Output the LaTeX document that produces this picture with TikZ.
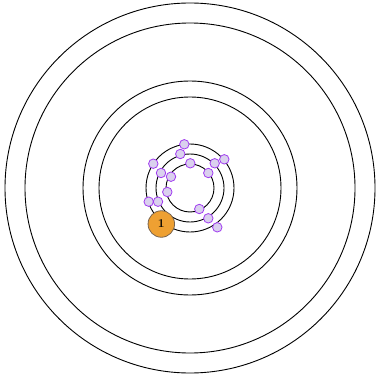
\documentclass[tikz,border=0pt]{standalone}
\begin{document}
\begin{tikzpicture}[x=1pt,y=-1pt,
  ring/.style={draw=black,line width=0.9pt},
  dot/.style={circle,draw={rgb,255:red,160;green,60;blue,240},line width=0.8pt,fill={rgb,255:red,218;green,208;blue,238},minimum size=9.5pt,inner sep=0pt},
  badge/.style={circle,draw={rgb,255:red,120;green,100;blue,80},line width=0.8pt,fill={rgb,255:red,238;green,160;blue,50},minimum size=26.5pt,inner sep=0pt,font=\large\bfseries}]
\useasboundingbox (0,0) rectangle (378,379);
\coordinate (c) at (190,188);
\draw[ring] (c) circle (185);
\draw[ring] (c) circle (165);
\draw[ring] (c) circle (107);
\draw[ring] (c) circle (91);
\draw[ring] (c) circle (44);
\draw[ring] (c) circle (34);
\draw[ring] (c) circle (24);
\node[dot] (d1) at (184.3,144.3) {};
\node[dot] (d2) at (180.3,154) {};
\node[dot] (d3) at (153.3,163.7) {};
\node[dot] (d4) at (190.3,163.3) {};
\node[dot] (d5) at (214.7,163.3) {};
\node[dot] (d6) at (224.3,159.3) {};
\node[dot] (d7) at (161,173) {};
\node[dot] (d8) at (171,176.7) {};
\node[dot] (d9) at (208.3,173) {};
\node[dot] (d10) at (167.3,192) {};
\node[dot] (d11) at (148.7,201.7) {};
\node[dot] (d12) at (158,201.7) {};
\node[dot] (d13) at (199.3,209) {};
\node[dot] (d14) at (208.3,218.3) {};
\node[dot] (d15) at (217.3,227.3) {};
\node[badge] (b1) at (161.3,224) {1};
\end{tikzpicture}
\end{document}
